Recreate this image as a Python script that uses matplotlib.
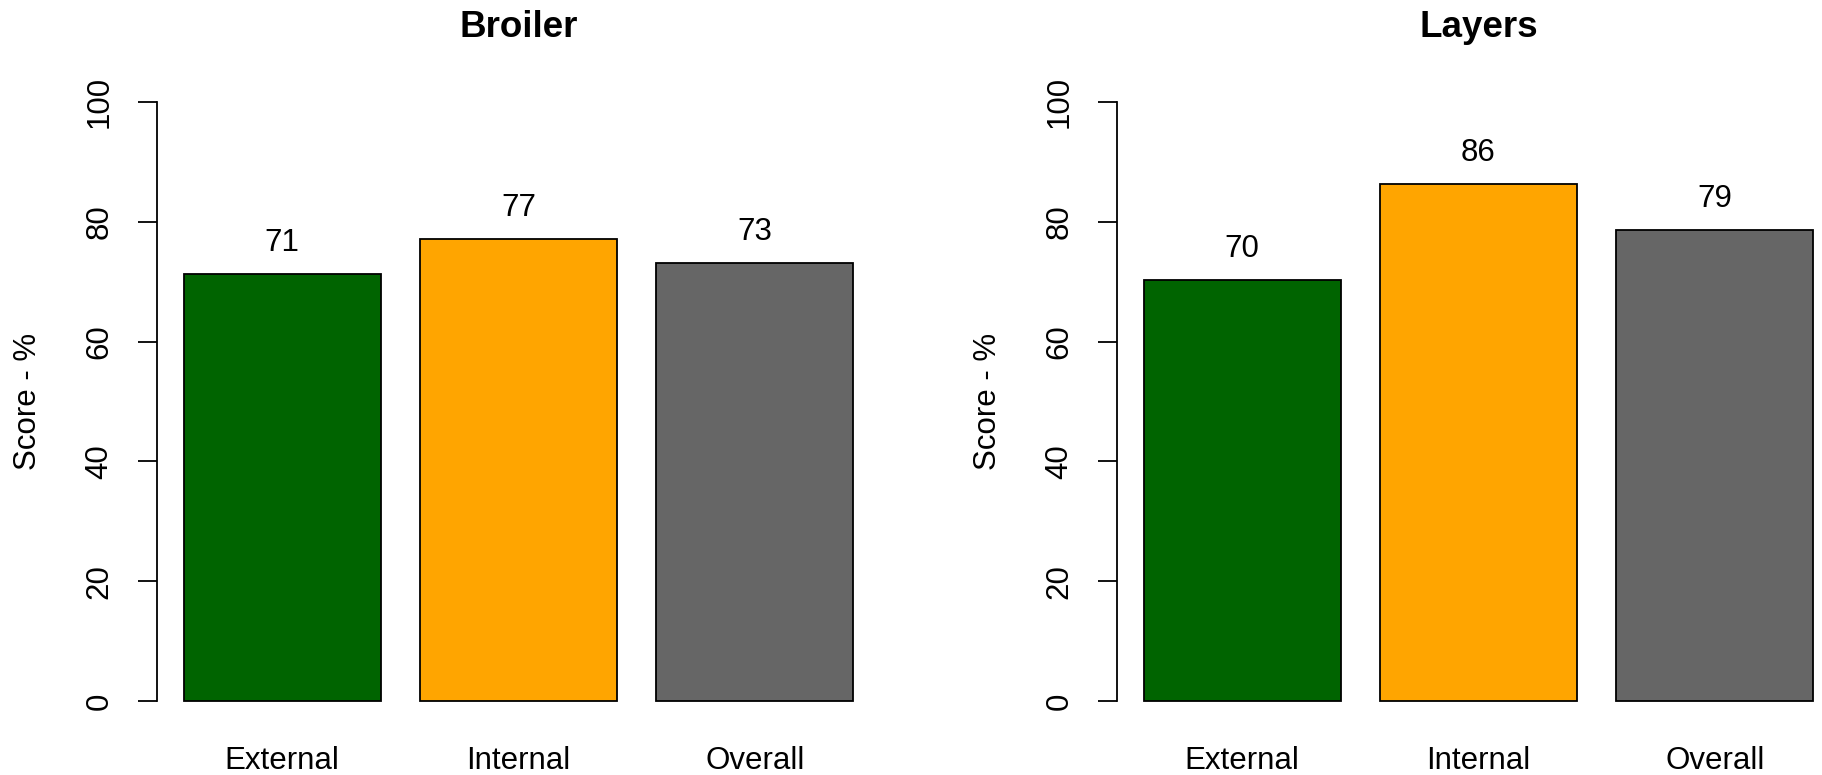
import numpy as np
import matplotlib
matplotlib.use("Agg")
import matplotlib.pyplot as plt

plt.rcParams['font.family'] = ['Liberation Sans', 'DejaVu Sans']

# data
categories = ["External", "Internal", "Overall"]
broiler = [71.3, 77.1, 73.1]
layers = [70.2, 86.3, 78.6]
titles = ["Broiler", "Layers"]
colors = ["#006400", "#FFA500", "#666666"]
yticks = [0, 20, 40, 60, 80, 100]

# R barplot style layout: width 1, space 0.2
width = 1.0
space = 0.2
xpos = space + np.arange(len(categories)) * (width + space) + width / 2
x_lo = space
x_hi = space + len(categories) * (width + space) - space
ext = 0.04 * (x_hi - x_lo)

W, H = 1822, 775
fig = plt.figure(figsize=(W / 100, H / 100), dpi=100)

lefts = [157, 1117]
for k, (vals, title) in enumerate(zip([broiler, layers], titles)):
    ax = fig.add_axes([lefts[k] / W, 50 / H, 723 / W, 647 / H])
    ax.bar(xpos, vals, width=width, color=colors, edgecolor='black', linewidth=1.3)
    for x, v in zip(xpos, vals):
        ax.text(x, v + 5.2, "%d" % round(v), ha='center', va='center', fontsize=22.5)
    ax.set_xlim(x_lo - ext, x_hi + ext)
    ax.set_ylim(-4, 104)
    for s in ['top', 'right', 'bottom']:
        ax.spines[s].set_visible(False)
    ax.spines['left'].set_bounds(0, 100)
    ax.spines['left'].set_linewidth(1.3)
    ax.set_yticks(yticks)
    ax.set_yticklabels([str(t) for t in yticks], rotation=90, va='center')
    ax.tick_params(axis='y', length=13.7, width=1.3, labelsize=22.5, pad=17)
    ax.set_xticks(xpos)
    ax.set_xticklabels(categories)
    ax.tick_params(axis='x', length=0, labelsize=22.5, pad=15)
    ax.set_ylabel("Score - %", fontsize=22.5)
    ax.yaxis.set_label_coords(-0.178, 0.5)
    ax.yaxis.label.set_va('center')
    ax.set_title(title, fontsize=26.5, fontweight='bold', pad=29.5)

plt.savefig("out.png", dpi=100)
